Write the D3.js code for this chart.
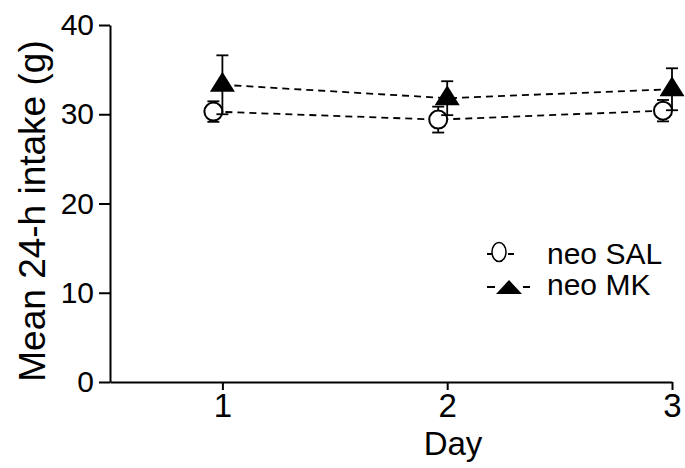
<!DOCTYPE html>
<html><head><meta charset="utf-8">
<script src="https://cdn.jsdelivr.net/npm/d3@7"></script>
<style>body{margin:0;background:#fff}svg{display:block}</style>
</head><body>
<script>
const days = [1, 2, 3];
const salMean = [30.3, 29.4, 30.4];
const salErr = [1.15, 1.45, 1.2];
const mkMean = [33.3, 31.8, 32.8];
const mkErr = [3.3, 1.9, 2.35];
const yTicks = [0, 10, 20, 30, 40];
const xTicks = [1, 2, 3];
const legendLabels = ["neo SAL", "neo MK"];

const W = 685, H = 468;
const svg = d3.select("body").append("svg").attr("width", W).attr("height", H);
const font = "Liberation Sans, Arial, sans-serif";

const x = d3.scaleLinear().domain([0.5, 3]).range([110, 672]);
const y = d3.scaleLinear().domain([0, 40]).range([382, 25]);

// axes
const yAxis = svg.append("g").attr("transform", "translate(110,0)")
  .call(d3.axisLeft(y).tickValues(yTicks).tickFormat(d3.format("d")).tickSize(11).tickPadding(5).tickSizeOuter(0));
yAxis.selectAll("text").attr("font-size", 30).attr("font-family", font).attr("fill", "#000");
const xAxis = svg.append("g").attr("transform", "translate(0,382)")
  .call(d3.axisBottom(x).tickValues(xTicks).tickFormat(d3.format("d")).tickSize(8).tickPadding(4).tickSizeOuter(0));
xAxis.selectAll("text").attr("font-size", 33).attr("font-family", font).attr("fill", "#000");
svg.selectAll(".domain, .tick line").attr("stroke", "#000").attr("stroke-width", 2);

// axis titles
svg.append("text").attr("transform", "translate(45,211) rotate(-90)")
  .attr("text-anchor", "middle").attr("font-size", 37).attr("font-family", font)
  .text("Mean 24-h intake (g)");
svg.append("text").attr("x", 453).attr("y", 455)
  .attr("text-anchor", "middle").attr("font-size", 33).attr("font-family", font)
  .text("Day");

const salOff = -9;
const line = (off) => d3.line().x((d, i) => x(days[i]) + off).y(d => y(d));

// dashed lines
svg.append("path").attr("d", line(salOff)(salMean)).attr("fill", "none")
  .attr("stroke", "#000").attr("stroke-width", 1.8).attr("stroke-dasharray", "7,5");
svg.append("path").attr("d", line(0)(mkMean)).attr("fill", "none")
  .attr("stroke", "#000").attr("stroke-width", 1.8).attr("stroke-dasharray", "7,5");

function errBars(mean, err, off) {
  const g = svg.append("g").attr("stroke", "#000").attr("stroke-width", 1.8);
  mean.forEach((m, i) => {
    const cx = x(days[i]) + off;
    g.append("line").attr("x1", cx).attr("x2", cx).attr("y1", y(m - err[i])).attr("y2", y(m + err[i]));
    [m - err[i], m + err[i]].forEach(v => {
      g.append("line").attr("x1", cx - 6).attr("x2", cx + 6).attr("y1", y(v)).attr("y2", y(v));
    });
  });
}
errBars(salMean, salErr, salOff);

// SAL circles
svg.append("g").selectAll("circle").data(salMean).join("circle")
  .attr("cx", (d, i) => x(days[i]) + salOff).attr("cy", d => y(d)).attr("r", 9)
  .attr("fill", "#fff").attr("stroke", "#000").attr("stroke-width", 2);

errBars(mkMean, mkErr, 0);

const tri = (cx, cy, hw, up, down) => `M${cx},${cy - up}L${cx + hw},${cy + down}L${cx - hw},${cy + down}Z`;
svg.append("g").selectAll("path").data(mkMean).join("path")
  .attr("d", (d, i) => tri(x(days[i]), y(d), 12.5, 13, 7)).attr("fill", "#000");

// legend
const lg = svg.append("g");
lg.append("line").attr("x1", 487).attr("x2", 492).attr("y1", 254).attr("y2", 254).attr("stroke", "#000").attr("stroke-width", 2);
lg.append("ellipse").attr("cx", 499).attr("cy", 252).attr("rx", 7).attr("ry", 9.5)
  .attr("fill", "#fff").attr("stroke", "#000").attr("stroke-width", 1.5);
lg.append("line").attr("x1", 508).attr("x2", 514).attr("y1", 254).attr("y2", 254).attr("stroke", "#000").attr("stroke-width", 2);
lg.append("line").attr("x1", 487).attr("x2", 495).attr("y1", 287).attr("y2", 287).attr("stroke", "#000").attr("stroke-width", 2);
lg.append("path").attr("d", "M509,280L522,294L496,294Z").attr("fill", "#000");
lg.append("line").attr("x1", 523).attr("x2", 530).attr("y1", 287).attr("y2", 287).attr("stroke", "#000").attr("stroke-width", 2);
lg.selectAll("text.lab").data(legendLabels).join("text").attr("class", "lab")
  .attr("x", 547).attr("y", (d, i) => 264 + i * 31)
  .attr("font-size", 30).attr("font-family", font).text(d => d);
</script>
</body></html>
